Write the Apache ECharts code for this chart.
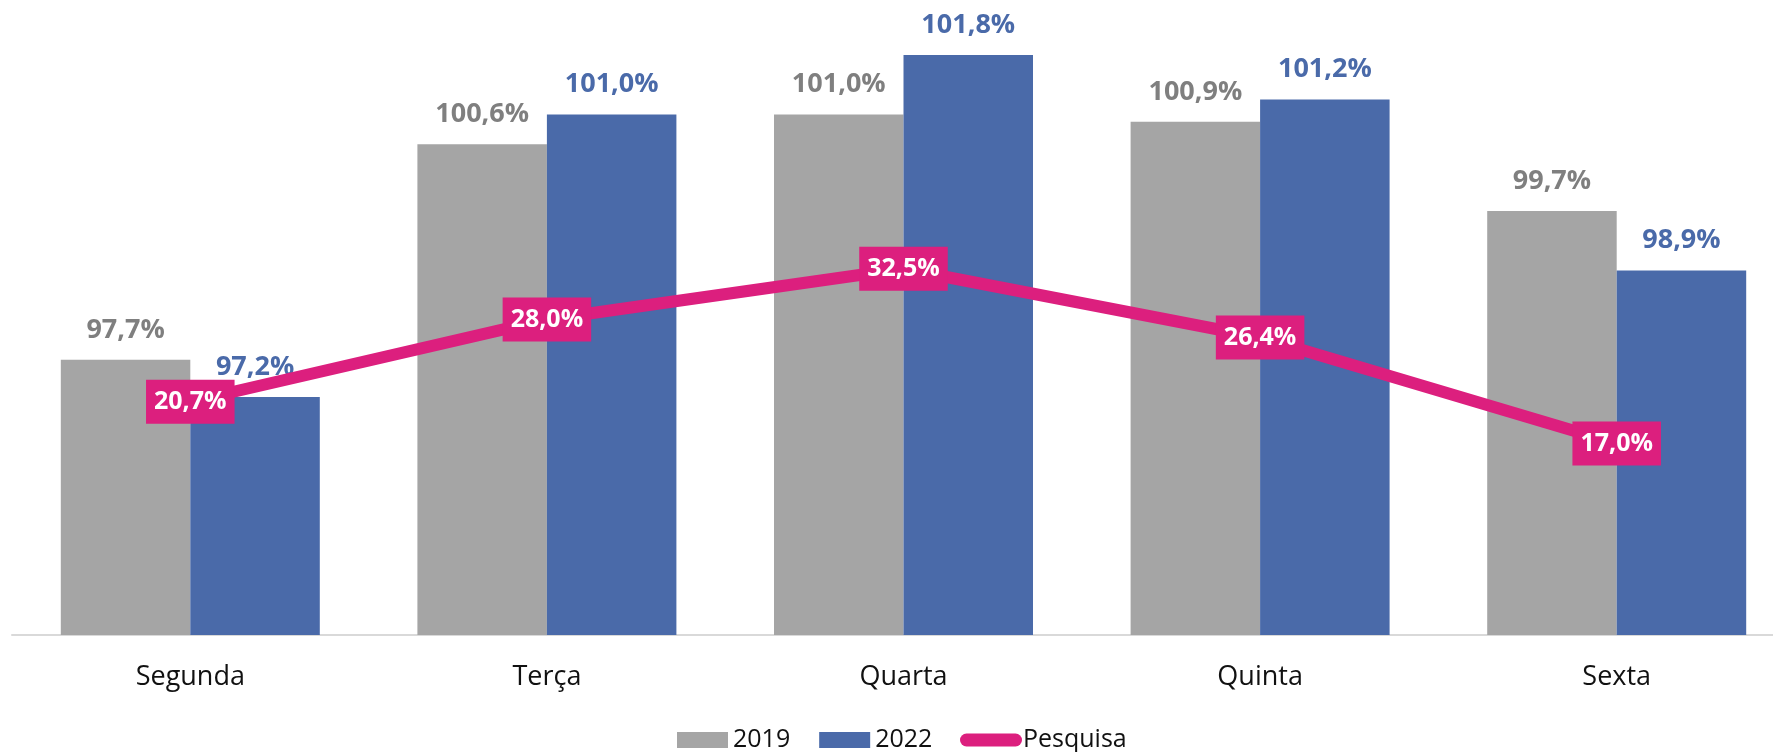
<!DOCTYPE html>
<html><head><meta charset="utf-8">
<script src="https://cdn.jsdelivr.net/npm/echarts@6/dist/echarts.min.js"></script>
<style>html,body{margin:0;padding:0;background:#fff;overflow:hidden;width:1773px;height:752px}#c{width:1795px;height:752px}</style>
</head><body><div id="c"></div>
<script>
const categories = ['Segunda', 'Terça', 'Quarta', 'Quinta', 'Sexta'];
const values2019 = [97.7, 100.6, 101.0, 100.9, 99.7];
const values2022 = [97.2, 101.0, 101.8, 101.2, 98.9];
const valuesPesquisa = [20.7, 28.0, 32.5, 26.4, 17.0];

const FONT = '"Open Sans", "Liberation Sans", sans-serif';
const fmt = p => p.value.toFixed(1).replace('.', ',') + '%';
const GRAY = '#A5A5A5', BLUE = '#4A6AA9', PINK = '#DC1F7E';

const chart = echarts.init(document.getElementById('c'));
chart.setOption({
  animation: false,
  backgroundColor: '#fff',
  textStyle: { fontFamily: FONT },
  grid: { left: 12, right: 0, top: 40, bottom: 117 },
  xAxis: {
    type: 'category',
    data: categories,
    axisTick: { show: false },
    axisLine: { lineStyle: { color: '#D9D9D9', width: 2 } },
    axisLabel: { fontSize: 27, color: '#111', fontFamily: FONT, lineHeight: 30, margin: 27 }
  },
  yAxis: [
    { type: 'value', min: 94, max: 102, show: false },
    { type: 'value', min: 0, max: 52.8, show: false }
  ],
  legend: [
    {
      data: ['2019', '2022'],
      left: 677, top: 725, padding: 0,
      itemWidth: 51, itemHeight: 16, itemGap: 29,
      icon: 'rect',
      textStyle: { fontSize: 25, color: '#111', fontFamily: FONT, lineHeight: 30 }
    },
    {
      data: [{ name: 'Pesquisa', icon: 'path://M6.5,0 H55.5 A6.5,6.5 0 0 1 55.5,13 H6.5 A6.5,6.5 0 0 1 6.5,0 Z' }],
      left: 960, top: 725, padding: 0,
      itemWidth: 62, itemHeight: 13,
      itemStyle: { color: PINK },
      textStyle: { fontSize: 25, color: '#111', fontFamily: FONT, lineHeight: 30, padding: [0, 0, 0, -4] }
    }
  ],
  series: [
    {
      name: '2019', type: 'bar', data: values2019,
      barWidth: 129.5, barGap: '0%',
      itemStyle: { color: GRAY },
      label: { show: true, position: 'top', distance: 15, formatter: fmt,
        fontSize: 27, fontWeight: 'bold', color: '#7F7F7F', fontFamily: FONT, lineHeight: 30 }
    },
    {
      name: '2022', type: 'bar', data: values2022,
      barWidth: 129.5,
      itemStyle: { color: BLUE },
      label: { show: true, position: 'top', distance: 15, formatter: fmt,
        fontSize: 27, fontWeight: 'bold', color: BLUE, fontFamily: FONT, lineHeight: 30 }
    },
    {
      name: 'Pesquisa', type: 'line', yAxisIndex: 1, data: valuesPesquisa,
      symbol: 'circle', symbolSize: 1, showSymbol: true,
      lineStyle: { color: PINK, width: 12 },
      itemStyle: { color: PINK },
      z: 5,
      label: { show: true, position: 'inside', formatter: fmt,
        fontSize: 25, fontWeight: 'bold', color: '#fff', fontFamily: FONT,
        backgroundColor: PINK, padding: [9, 8, 9, 8], lineHeight: 26 }
    }
  ]
});
</script>
</body></html>
